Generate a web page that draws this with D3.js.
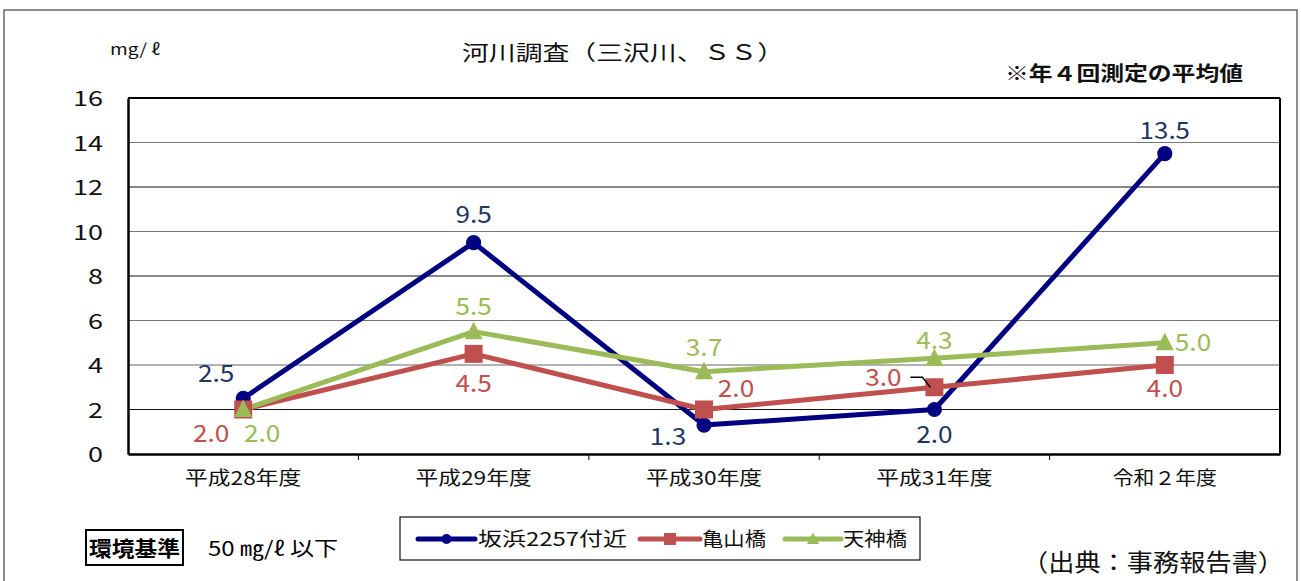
<!DOCTYPE html>
<html><head><meta charset="utf-8">
<script src="https://cdn.jsdelivr.net/npm/d3@7"></script>
<style>
body{margin:0;background:#fff;}
text{font-family:"Noto Sans CJK JP","Noto Sans",sans-serif;}
</style></head>
<body><svg id="c" width="1301" height="581"></svg>
<script>
const categories = ["平成28年度","平成29年度","平成30年度","平成31年度","令和２年度"];
const sakahama = [2.5, 9.5, 1.3, 2.0, 13.5];
const kameyama = [2.0, 4.5, 2.0, 3.0, 4.0];
const tenjin = [2.0, 5.5, 3.7, 4.3, 5.0];
const yTicks = [0,2,4,6,8,10,12,14,16];
const seriesNames = ["坂浜2257付近","亀山橋","天神橋"];

const svg = d3.select("#c");
const L=128, R=1280, T=98, B=454;
const x = d3.scaleBand().domain(categories).range([L,R]);
const y = d3.scaleLinear().domain([0,16]).range([B,T]);

const w = (s, a, c) => Array.from(s).reduce((t,ch)=>t+(/[0-9]/.test(ch)?a:(ch==="."?a*0.6:c)),0);
function stretch(sel, len){ sel.attr("textLength",len).attr("lengthAdjust","spacingAndGlyphs"); return sel; }

// outer border
svg.append("rect").attr("x",4).attr("y",10).attr("width",1293).attr("height",600)
  .attr("fill","none").attr("stroke","#444").attr("stroke-width",1.2);

// gridlines
const gridCol = {2:"#111",4:"#666",6:"#777",8:"#111",10:"#777",12:"#111",14:"#777"};
svg.append("g").selectAll("line").data(yTicks.filter(d=>d>0&&d<16)).join("line")
  .attr("x1",L).attr("x2",R).attr("y1",d=>y(d)).attr("y2",d=>y(d))
  .attr("stroke",d=>gridCol[d]).attr("stroke-width",1.2);

// plot frame top/right
svg.append("line").attr("x1",L).attr("x2",R).attr("y1",T).attr("y2",T).attr("stroke","#000").attr("stroke-width",2);
svg.append("line").attr("x1",R).attr("x2",R).attr("y1",T).attr("y2",B).attr("stroke","#000").attr("stroke-width",2);

// y axis
const ya = svg.append("g").attr("transform",`translate(${L},0)`)
  .call(d3.axisLeft(y).tickValues(yTicks).tickSize(0).tickPadding(25));
ya.select(".domain").attr("stroke","#000").attr("stroke-width",2.5);
ya.selectAll("text").attr("font-size",21).attr("fill","#111").attr("font-family","'Liberation Sans',sans-serif")
  .attr("dy","0.36em").each(function(d){ stretch(d3.select(this), 15*String(d).length); });

// x axis
const xa = svg.append("g").attr("transform",`translate(0,${B})`)
  .call(d3.axisBottom(x).tickSize(0).tickPadding(18));
xa.select(".domain").attr("stroke","#000").attr("stroke-width",2.5);
xa.selectAll("text").attr("font-size",19).attr("fill","#111")
  .each(function(d){ stretch(d3.select(this), w(d,16.5,20.8)); });
svg.append("g").selectAll("line").data(categories.slice(1)).join("line")
  .attr("x1",d=>x(d)).attr("x2",d=>x(d)).attr("y1",B).attr("y2",B+6)
  .attr("stroke","#000").attr("stroke-width",1);

const cx = d => x(categories[d])+x.bandwidth()/2;
const line = d3.line().x((d,i)=>cx(i)).y(d=>y(d));

const colors = ["#000080","#C0504D","#9BBB59"];
const labelColors = ["#1F3763","#C0504D","#9BBB59"];
const data = [sakahama,kameyama,tenjin];

data.forEach((s,k)=>{
  svg.append("path").datum(s).attr("d",line).attr("fill","none")
    .attr("stroke",colors[k]).attr("stroke-width",5).attr("stroke-linejoin","round");
});
function marker(g,k,px,py,sz){
  if(k===0) g.append("circle").attr("cx",px).attr("cy",py).attr("r",sz*0.42).attr("fill",colors[0]);
  else if(k===1) g.append("rect").attr("x",px-sz/2).attr("y",py-sz/2).attr("width",sz).attr("height",sz).attr("fill",colors[1]);
  else g.append("path").attr("d",`M0,${-sz*0.55}L${sz/2},${sz*0.42}L${-sz/2},${sz*0.42}Z`).attr("transform",`translate(${px},${py})`).attr("fill",colors[2]);
}
const mg = svg.append("g");
data.forEach((s,k)=>s.forEach((v,i)=>marker(mg,k,cx(i),y(v),18)));

const offs = [
  [[-27,-25,"middle"],[0,-28,"middle"],[-36,11,"middle"],[0,25,"middle"],[0,-23,"middle"]],
  [[-32,24,"middle"],[0,29,"middle"],[32,-21,"middle"],[-51,-9.5,"middle"],[0,23,"middle"]],
  [[19,24,"middle"],[0,-25,"middle"],[0,-24,"middle"],[0,-18,"middle"],[10,0,"start"]]
];
data.forEach((s,k)=>s.forEach((v,i)=>{
  const o=offs[k][i], t=v.toFixed(1);
  stretch(svg.append("text").attr("x",cx(i)+o[0]).attr("y",y(v)+o[1]).attr("dy","0.36em").attr("text-anchor",o[2])
    .attr("font-size",24).attr("fill",labelColors[k])
    .attr("font-family","'Liberation Sans',sans-serif").text(t), w(t,14,0));
}));
{
  const px=cx(3), py=y(kameyama[3]);
  svg.append("path").attr("d",`M${px-24},${py-10}H${px-12}L${px-4},${py}`).attr("fill","none").attr("stroke","#000").attr("stroke-width",1.3);
}

// title and notes
stretch(svg.append("text").attr("x",623).attr("y",52).attr("dy","0.37em").attr("text-anchor","middle").attr("font-size",21).attr("fill","#111").text("河川調査（三沢川、ＳＳ）"),322);
stretch(svg.append("text").attr("x",110).attr("y",50).attr("dy","0.32em").attr("font-size",16).attr("fill","#111").attr("font-family","'Noto Serif CJK JP','DejaVu Serif',serif").text("mg/ ℓ"),50);
stretch(svg.append("text").attr("x",1005).attr("y",74).attr("dy","0.36em").attr("font-size",20).attr("font-weight","bold").attr("fill","#111").text("※年４回測定の平均値"),238);

// legend
svg.append("rect").attr("x",400).attr("y",517).attr("width",520).attr("height",43).attr("fill","#fff").attr("stroke","#111").attr("stroke-width",1.2);
const ly=539;
const legItems = [{x1:418,x2:475,tx:478,tl:149},{x1:640,x2:700,tx:702,tl:64},{x1:785,x2:841,tx:843,tl:64}];
seriesNames.forEach((n,k)=>{
  const it=legItems[k];
  svg.append("line").attr("x1",it.x1).attr("x2",it.x2).attr("y1",ly).attr("y2",ly).attr("stroke",colors[k]).attr("stroke-width",5).attr("stroke-linecap","round");
  marker(svg,k,(it.x1+it.x2)/2,ly,12);
  stretch(svg.append("text").attr("x",it.tx).attr("y",ly).attr("dy","0.36em").attr("font-size",19).attr("fill","#111").text(n),it.tl);
});

// environmental standard
svg.append("rect").attr("x",86).attr("y",530).attr("width",97).attr("height",35).attr("fill","none").attr("stroke","#000").attr("stroke-width",2);
stretch(svg.append("text").attr("x",89).attr("y",548).attr("dy","0.36em").attr("font-size",21).attr("font-weight","bold").attr("fill","#000").text("環境基準"),91);
stretch(svg.append("text").attr("x",208).attr("y",549).attr("dy","0.36em").attr("font-size",20).attr("fill","#000").text("50 ㎎/ℓ 以下"),130);

stretch(svg.append("text").attr("x",1022).attr("y",562).attr("dy","0.36em").attr("font-size",24).attr("fill","#111").text("（出典：事務報告書）"),262);
</script></body></html>
